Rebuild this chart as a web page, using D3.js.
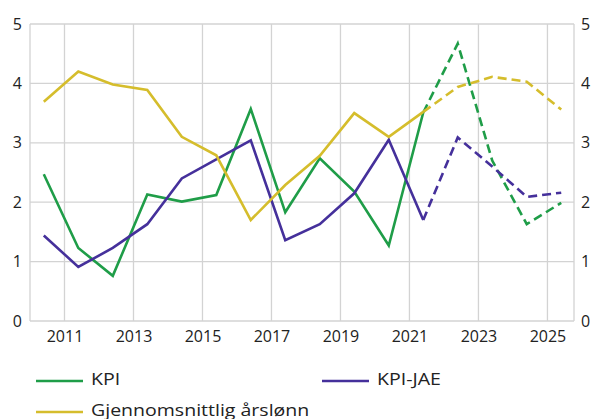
<!DOCTYPE html>
<html>
<head>
<meta charset="utf-8">
<script src="https://cdn.jsdelivr.net/npm/d3@7"></script>
<style>
  body { margin: 0; background: #fff; }
  svg { font-family: "Open Sans", sans-serif; }
</style>
</head>
<body>
<div id="chart"></div>
<script>
// Data
const years = [2010, 2011, 2012, 2013, 2014, 2015, 2016, 2017, 2018, 2019, 2020, 2021, 2022, 2023, 2024, 2025];
const kpi = [2.47, 1.23, 0.76, 2.13, 2.01, 2.12, 3.57, 1.83, 2.74, 2.18, 1.27, 3.51, 4.67, 2.7, 1.63, 1.99];
const kpiJae = [1.44, 0.91, 1.23, 1.63, 2.40, 2.72, 3.04, 1.36, 1.63, 2.15, 3.05, 1.70, 3.09, 2.6, 2.09, 2.16];
const aarslonn = [3.69, 4.20, 3.98, 3.89, 3.10, 2.79, 1.70, 2.29, 2.78, 3.50, 3.10, 3.52, 3.94, 4.11, 4.03, 3.56];
const lastActual = 2021;
const xTicks = [2011, 2013, 2015, 2017, 2019, 2021, 2023, 2025];
const yTicks = [0, 1, 2, 3, 4, 5];

const seriesList = [
    { name: "KPI", values: kpi, color: "#1f9d48" },
    { name: "KPI-JAE", values: kpiJae, color: "#45309b" },
    { name: "Gjennomsnittlig årslønn", values: aarslonn, color: "#d5bd2c" }
];

const width = 591, height = 419;
const margin = { top: 24, right: 17, bottom: 98, left: 30 };

const svg = d3.select("#chart").append("svg")
    .attr("width", width)
    .attr("height", height);

const x = d3.scaleLinear()
    .domain([2010, 2025.77])
    .range([margin.left, width - margin.right]);

const y = d3.scaleLinear()
    .domain([0, 5])
    .range([height - margin.bottom, margin.top]);

// points sit a bit into each year
const xPos = yr => x(yr + 0.4);

// Grid
const grid = svg.append("g").attr("stroke", "#d3d3d3").attr("stroke-width", 1.3);
grid.selectAll("line.h")
    .data(yTicks)
    .join("line")
    .attr("x1", x.range()[0]).attr("x2", x.range()[1])
    .attr("y1", d => y(d)).attr("y2", d => y(d));
grid.selectAll("line.v")
    .data(xTicks)
    .join("line")
    .attr("x1", d => x(d)).attr("x2", d => x(d))
    .attr("y1", y(0)).attr("y2", y(5));
// frame sides
grid.selectAll("line.side")
    .data(x.range())
    .join("line")
    .attr("x1", d => d).attr("x2", d => d)
    .attr("y1", y(0)).attr("y2", y(5));

// Axes
const leftAxis = svg.append("g")
    .attr("transform", `translate(${margin.left},0)`)
    .call(d3.axisLeft(y).tickValues(yTicks).tickFormat(d3.format("d")).tickSize(0).tickPadding(8));
const rightAxis = svg.append("g")
    .attr("transform", `translate(${width - margin.right},0)`)
    .call(d3.axisRight(y).tickValues(yTicks).tickFormat(d3.format("d")).tickSize(0).tickPadding(7));
const bottomAxis = svg.append("g")
    .attr("transform", `translate(0,${y(0)})`)
    .call(d3.axisBottom(x).tickValues(xTicks).tickFormat(d3.format("d")).tickSize(0).tickPadding(10));

[leftAxis, rightAxis, bottomAxis].forEach(a => {
    a.select(".domain").remove();
    a.selectAll("text").attr("font-size", 16).attr("fill", "#222").attr("font-family", "Open Sans, sans-serif");
});

// Lines
const line = d3.line()
    .x(d => xPos(d.year))
    .y(d => y(d.value));

seriesList.forEach(s => {
    const pts = years.map((yr, i) => ({ year: yr, value: s.values[i] }));
    const actual = pts.filter(p => p.year <= lastActual);
    const proj = pts.filter(p => p.year >= lastActual);
    s.g = svg.append("g").attr("fill", "none").attr("stroke", s.color).attr("stroke-width", 2.6);
    s.g.append("path").datum(actual).attr("d", line);
    s.g.append("path").datum(proj).attr("d", line).attr("stroke-dasharray", "9,5");
});

// Legend
const legendItems = [
    { s: seriesList[0], x: 36, y: 381 },
    { s: seriesList[1], x: 322, y: 381 },
    { s: seriesList[2], x: 36, y: 412 }
];
const legend = svg.append("g");
legendItems.forEach(it => {
    legend.append("line")
        .attr("x1", it.x).attr("x2", it.x + 47)
        .attr("y1", it.y).attr("y2", it.y)
        .attr("stroke", it.s.color).attr("stroke-width", 2.6);
    legend.append("text")
        .attr("transform", `translate(${it.x + 55},${it.y + 3.5}) scale(1.15,1)`)
        .attr("font-size", 17)
        .attr("fill", "#222")
        .text(it.s.name);
});
</script>
</body>
</html>
